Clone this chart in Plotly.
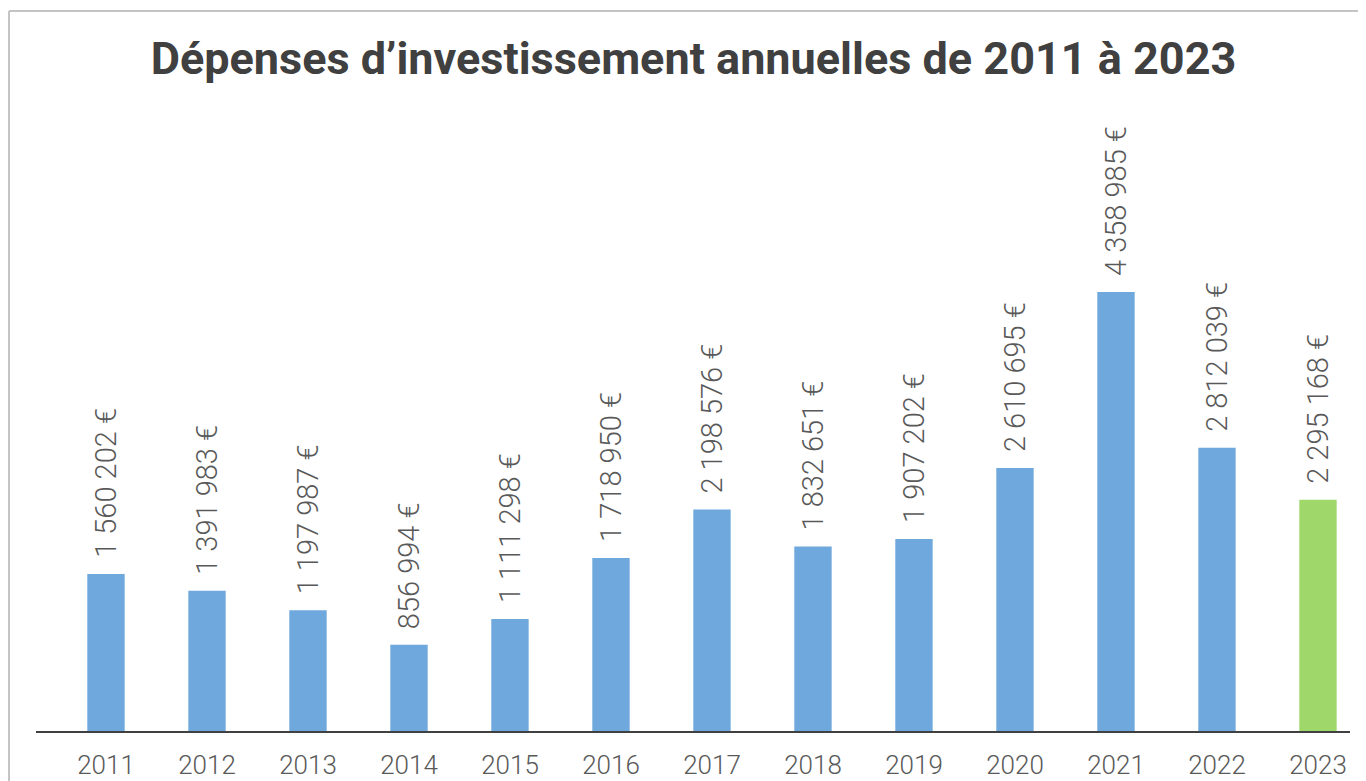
import plotly.graph_objects as go

years = ["2011", "2012", "2013", "2014", "2015", "2016", "2017",
         "2018", "2019", "2020", "2021", "2022", "2023"]
values = [1560202, 1391983, 1197987, 856994, 1111298, 1718950, 2198576,
          1832651, 1907202, 2610695, 4358985, 2812039, 2295168]
title_text = "Dépenses d’investissement annuelles de 2011 à 2023"

BLUE = "#6fa8dc"
GREEN = "#a0d76a"
colors = [BLUE] * (len(years) - 1) + [GREEN]

def fmt(v):
    return f"{v:,}".replace(",", " ") + " €"

fig = go.Figure()
fig.add_trace(go.Bar(
    x=years, y=values, marker=dict(color=colors, line=dict(width=0)),
    width=0.37, hoverinfo="skip",
))

for i, v in enumerate(values):
    fig.add_annotation(
        x=i, y=v, text=fmt(v), showarrow=False, textangle=-90,
        xanchor="center", yanchor="bottom", yshift=14,
        font=dict(family="Roboto", size=29, color="#595959", weight=300),
    )

W, H = 1366, 781
OFF = 8  # page body offset
L, R = 36 - OFF, 16 + OFF
T, B = 100 - OFF, 50 + OFF
pw = W - L - R
ph = H - T - B

# border of chart frame (top and left edges visible)
bx = (9 - OFF - L) / pw
by = (H - B - (11 - OFF)) / ph
fig.add_shape(type="line", xref="paper", yref="paper", x0=bx, x1=1.2, y0=by, y1=by,
              line=dict(color="#c4c4c4", width=2))
fig.add_shape(type="line", xref="paper", yref="paper", x0=bx, x1=bx, y0=by, y1=-0.3,
              line=dict(color="#c4c4c4", width=2))

fig.update_layout(
    width=W, height=H,
    margin=dict(l=L, r=R, t=T, b=B, autoexpand=False),
    paper_bgcolor="white", plot_bgcolor="white",
    showlegend=False,
    title=dict(text=title_text, x=(693.5 - OFF) / W, xanchor="center",
               y=1 - (58 - OFF) / H, yanchor="middle",
               font=dict(family="Roboto", size=45, color="#404040", weight="bold")),
    xaxis=dict(type="category", range=[-0.693, 12.317], showline=True, linecolor="#404040",
               linewidth=2, ticks="", showgrid=False, zeroline=False, ticklabelstandoff=10,
               automargin=False,
               tickfont=dict(family="Roboto", size=26, color="#595959", weight=300)),
    yaxis=dict(range=[0, 6.266e6], visible=False, showgrid=False, zeroline=False,
               automargin=False),
)

fig.write_html("out.html")
